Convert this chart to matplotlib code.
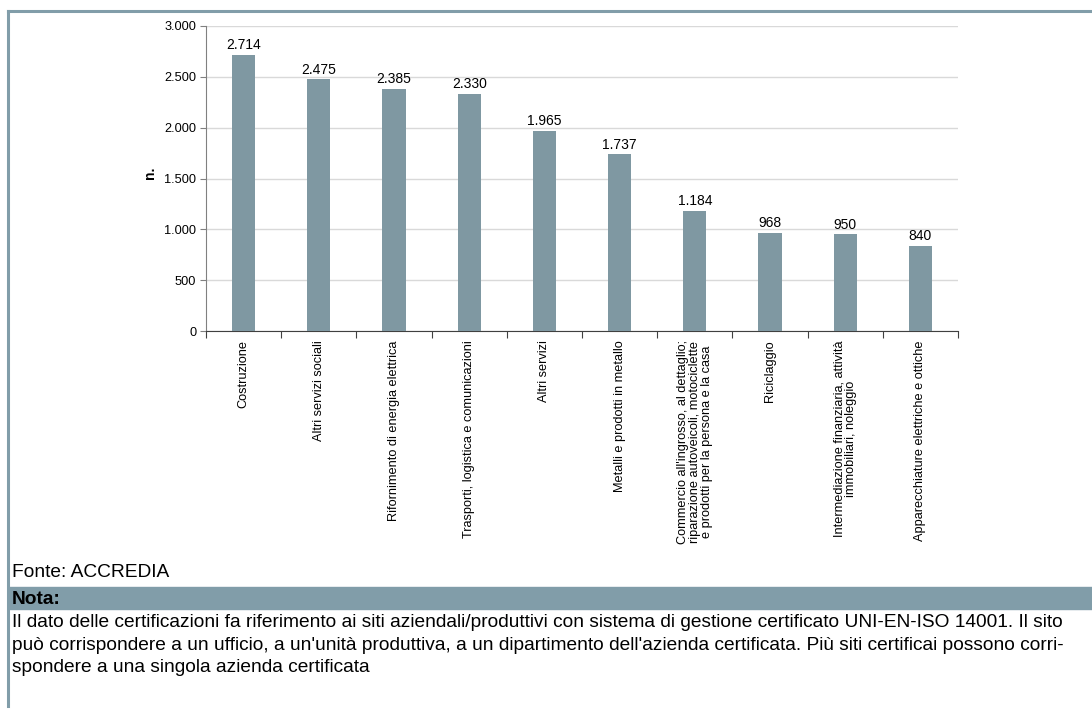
import matplotlib
matplotlib.use("Agg")
import matplotlib.pyplot as plt
from matplotlib.lines import Line2D
from matplotlib.patches import Rectangle
from matplotlib.ticker import FixedLocator, FuncFormatter

categories = [
    "Costruzione",
    "Altri servizi sociali",
    "Rifornimento di energia elettrica",
    "Trasporti, logistica e comunicazioni",
    "Altri servizi",
    "Metalli e prodotti in metallo",
    "Commercio all'ingrosso, al dettaglio;\nriparazione autoveicoli, motociclette\ne prodotti per la persona e la casa",
    "Riciclaggio",
    "Intermediazione finanziaria, attività\nimmobiliari, noleggio",
    "Apparecchiature elettriche e ottiche",
]
values = [2714, 2475, 2385, 2330, 1965, 1737, 1184, 968, 950, 840]
y_ticks = [0, 500, 1000, 1500, 2000, 2500, 3000]

source_text = "Fonte: ACCREDIA"
note_title = "Nota:"
note_lines = [
    "Il dato delle certificazioni fa riferimento ai siti aziendali/produttivi con sistema di gestione certificato UNI-EN-ISO 14001. Il sito",
    "può corrispondere a un ufficio, a un'unità produttiva, a un dipartimento dell'azienda certificata. Più siti certificai possono corri-",
    "spondere a una singola azienda certificata",
]

BAR = "#7f98a2"
FRAME = "#819da9"
W, H = 1092, 714

plt.rcParams['font.family'] = ['Liberation Sans', 'DejaVu Sans']
fig = plt.figure(figsize=(W / 100, H / 100), dpi=100)

def fx(px):
    return px / W

def fy(py):
    return 1 - py / H

ax = fig.add_axes([fx(206), fy(331), fx(958) - fx(206), fy(26) - fy(331)])
x = list(range(len(categories)))
ax.bar(x, values, width=0.31, color=BAR, zorder=3)
for xi, v in zip(x, values):
    ax.annotate(f"{v:,}".replace(",", "."), (xi, v), xytext=(0, 2), textcoords="offset points",
                ha="center", va="bottom", fontsize=10, color="#000000")

ax.set_xlim(-0.5, len(categories) - 0.5)
ax.set_ylim(0, 3000)
ax.yaxis.set_major_locator(FixedLocator(y_ticks))
ax.yaxis.set_major_formatter(FuncFormatter(lambda v, p: f"{int(v):,}".replace(",", ".")))
ax.grid(axis="y", color="#d9d9d9", linewidth=1, zorder=0)
ax.set_axisbelow(True)
for s in ["top", "right"]:
    ax.spines[s].set_visible(False)
ax.spines["left"].set_color("#808080")
ax.spines["bottom"].set_color("#404040")
ax.tick_params(axis="y", labelsize=9.2, length=4, color="#808080", pad=3)

# category boundary ticks on x axis
ax.set_xticks([i - 0.5 for i in range(len(categories) + 1)])
ax.set_xticklabels([])
ax.tick_params(axis="x", length=5, color="#404040", direction="out")
for xi, lab in zip(x, categories):
    ax.text(xi, -0.03, lab, transform=ax.get_xaxis_transform(), rotation=90,
            ha="center", va="top", fontsize=9.2, linespacing=1.0, multialignment="center")

fig.text(fx(150), fy(173), "n.", rotation=90, ha="center", va="center",
         fontsize=10, fontweight="bold")

# outer frame
fig.add_artist(Line2D([fx(8), 1], [fy(11), fy(11)], color=FRAME, linewidth=2.2))
fig.add_artist(Line2D([fx(8), fx(8)], [fy(11), fy(706)], color=FRAME, linewidth=2.2))

narrow = ['Liberation Sans Narrow', 'Liberation Sans', 'DejaVu Sans']
FS = 13.8
fig.text(fx(12), fy(577), source_text, ha="left", va="baseline", fontsize=FS, family=narrow)
fig.add_artist(Rectangle((fx(8), fy(609)), 1 - fx(8), fy(587) - fy(609), color=FRAME,
                         transform=fig.transFigure))
fig.text(fx(12), fy(604), note_title, ha="left", va="baseline", fontsize=FS,
         fontweight="bold", family=narrow)
for i, line in enumerate(note_lines):
    fig.text(fx(12), fy(627 + 22.5 * i), line, ha="left", va="baseline", fontsize=FS, family=narrow)

fig.savefig("out.png", dpi=100)
